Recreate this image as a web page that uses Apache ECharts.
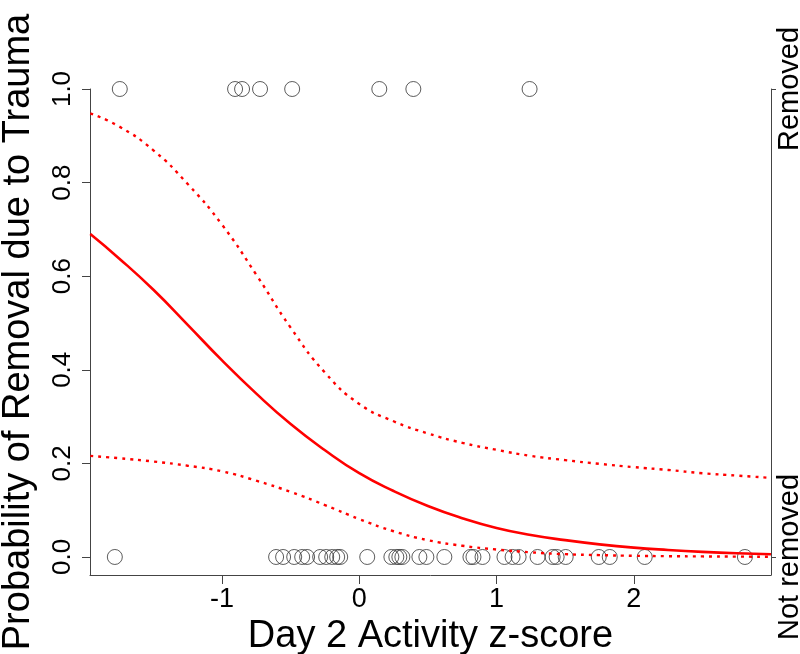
<!DOCTYPE html>
<html>
<head>
<meta charset="utf-8">
<script src="https://cdn.jsdelivr.net/npm/echarts@6/dist/echarts.min.js"></script>
<style>
  html, body { margin: 0; padding: 0; background: #ffffff; }
  #chart { width: 800px; height: 654px; }
</style>
</head>
<body>
<div id="chart"></div>
<script>
// ---- data ----
const curveX   = [-1.96, -1.75, -1.5, -1.25, -1.0, -0.75, -0.5, -0.25, 0, 0.25, 0.5, 0.75, 1.0, 1.25, 1.5, 1.75, 2.0, 2.25, 2.5, 2.75, 3.0];
const fitProb  = [0.690, 0.638, 0.571, 0.496, 0.420, 0.349, 0.284, 0.228, 0.179, 0.141, 0.109, 0.083, 0.062, 0.047, 0.036, 0.027, 0.020, 0.015, 0.011, 0.008, 0.006];
const upperCI  = [0.948, 0.920, 0.869, 0.797, 0.710, 0.603, 0.490, 0.394, 0.327, 0.290, 0.264, 0.244, 0.229, 0.216, 0.207, 0.199, 0.192, 0.186, 0.179, 0.174, 0.169];
const lowerCI  = [0.216, 0.211, 0.204, 0.195, 0.183, 0.163, 0.139, 0.111, 0.081, 0.055, 0.036, 0.024, 0.016, 0.010, 0.006, 0.004, 0.0025, 0.0017, 0.0012, 0.0008, 0.0005];
const removedX = [-1.745, -0.905, -0.854, -0.723, -0.489, 0.146, 0.394, 1.241];
const notRemovedX = [-1.781, -0.606, -0.555, -0.474, -0.416, -0.380, -0.285, -0.241, -0.197, -0.161, -0.139,
  0.058, 0.234, 0.270, 0.292, 0.314, 0.438, 0.489, 0.620, 0.810, 0.832, 0.898, 1.058, 1.117, 1.161,
  1.299, 1.409, 1.438, 1.504, 1.745, 1.825, 2.080, 2.810];
const xTicks = [-1, 0, 1, 2];
const yTicks = [0, 0.2, 0.4, 0.6, 0.8, 1.0];
const outcomeTicks = [0, 1];
const outcomeLabels = ['Not removed', 'Removed'];
const xTitle = 'Day 2 Activity z-score';
const yTitle = 'Probability of Removal due to Trauma';

const FONT = '"Liberation Sans", Arial, sans-serif';
const AXIS_COLOR = '#444';

const chart = echarts.init(document.getElementById('chart'), null, { renderer: 'canvas' });

const pair = (xs, ys) => xs.map((x, i) => [x, ys[i]]);

chart.setOption({
  animation: false,
  backgroundColor: '#ffffff',
  grid: { left: 90, right: 29, top: 89, bottom: 79, containLabel: false, outerBoundsMode: 'none' },
  xAxis: {
    type: 'value',
    min: -1.962,
    max: 3.0,
    name: xTitle,
    nameLocation: 'middle',
    nameGap: 40,
    nameTextStyle: { fontFamily: FONT, fontSize: 38, color: '#000' },
    axisLine: { show: true, onZero: false, lineStyle: { color: AXIS_COLOR, width: 1 } },
    axisTick: { show: true, inside: false, length: 9, customValues: xTicks, lineStyle: { color: AXIS_COLOR } },
    axisLabel: { customValues: xTicks, margin: 11, fontFamily: FONT, fontSize: 27, color: '#000',
      formatter: v => String(v) },
    splitLine: { show: false }
  },
  yAxis: [
    {
      type: 'value',
      position: 'left',
      min: -0.0385,
      max: 1,
      name: yTitle,
      nameLocation: 'middle',
      nameRotate: 90,
      nameGap: 52,
      nameTextStyle: { fontFamily: FONT, fontSize: 38, color: '#000' },
      axisLine: { show: true, onZero: false, lineStyle: { color: AXIS_COLOR, width: 1 } },
      axisTick: { show: true, length: 8, customValues: yTicks, lineStyle: { color: AXIS_COLOR } },
      axisLabel: { customValues: yTicks, rotate: 90, margin: 14, fontFamily: FONT, fontSize: 26, color: '#000',
        formatter: v => v.toFixed(1) },
      splitLine: { show: false }
    },
    {
      type: 'value',
      position: 'right',
      min: -0.0385,
      max: 1,
      axisLine: { show: true, onZero: false, lineStyle: { color: AXIS_COLOR, width: 1 } },
      axisTick: { show: true, length: 5, customValues: outcomeTicks, lineStyle: { color: AXIS_COLOR } },
      axisLabel: { customValues: outcomeTicks, rotate: 90, margin: 4, fontFamily: FONT, fontSize: 29, color: '#000',
        formatter: v => outcomeLabels[Math.round(v)] },
      splitLine: { show: false }
    }
  ],
  series: [
    {
      type: 'scatter',
      name: 'Removed',
      clip: false,
      symbol: 'circle',
      symbolSize: 15,
      itemStyle: { color: 'rgba(0,0,0,0)', borderColor: '#333', borderWidth: 1 },
      data: removedX.map(x => [x, 1])
    },
    {
      type: 'scatter',
      name: 'Not removed',
      clip: false,
      symbol: 'circle',
      symbolSize: 15,
      itemStyle: { color: 'rgba(0,0,0,0)', borderColor: '#333', borderWidth: 1 },
      data: notRemovedX.map(x => [x, 0])
    },
    {
      type: 'line',
      name: 'Fit',
      showSymbol: false,
      symbol: 'none',
      smooth: 0.5,
      lineStyle: { color: '#ff0000', width: 2.6, type: 'solid' },
      data: pair(curveX, fitProb)
    },
    {
      type: 'line',
      name: 'Upper',
      showSymbol: false,
      symbol: 'none',
      smooth: 0.5,
      lineStyle: { color: '#ff0000', width: 2.4, type: [3, 5] },
      data: pair(curveX, upperCI)
    },
    {
      type: 'line',
      name: 'Lower',
      showSymbol: false,
      symbol: 'none',
      smooth: 0.5,
      lineStyle: { color: '#ff0000', width: 2.4, type: [3, 5] },
      data: pair(curveX, lowerCI)
    }
  ]
});
</script>
</body>
</html>
